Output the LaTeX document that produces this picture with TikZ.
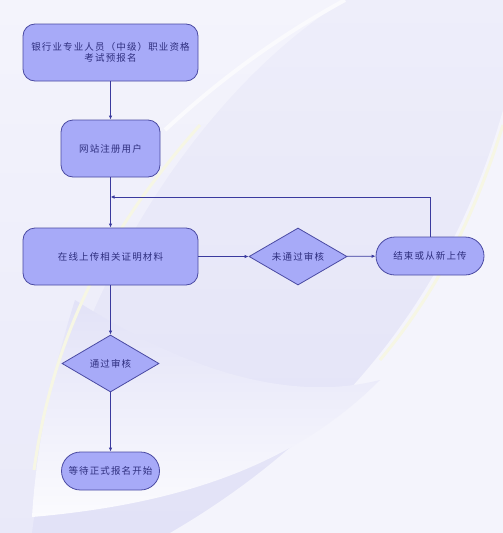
\documentclass[tikz,border=0pt]{standalone}
\usepackage{fontspec}
\newfontfamily\cjk[LetterSpace=12]{Noto Sans CJK SC}
\usetikzlibrary{shapes.geometric, arrows.meta}

\definecolor{bgbase}{HTML}{F4F4FC}
\definecolor{bgband}{HTML}{E2E2F7}
\definecolor{bgtop}{HTML}{EEEEFA}
\definecolor{bgwhite}{HTML}{FBFBFE}
\definecolor{swoosh}{HTML}{F6F6E4}
\definecolor{boxfill}{HTML}{A7AAF8}
\definecolor{boxline}{HTML}{4A4AA2}
\definecolor{flowline}{HTML}{3A3A9E}
\definecolor{boxtext}{HTML}{2E2E7E}

\begin{document}
\begin{tikzpicture}[
    x=1pt, y=-1pt,
    font=\cjk\fontsize{9.5}{10.5}\selectfont,
    box/.style={rectangle, rounded corners=12pt, draw=boxline, fill=boxfill, text=boxtext, thick, align=center, inner sep=0pt},
    pill/.style={rectangle, rounded corners=19pt, draw=boxline, fill=boxfill, text=boxtext, thick, inner sep=0pt, minimum height=38pt},
    check/.style={diamond, draw=boxline, fill=boxfill, text=boxtext, thick, inner sep=0pt, aspect=1.7, minimum width=98pt, minimum height=57pt},
    flow/.style={draw=flowline, line width=0.8pt, -{Latex[length=4pt, width=3.5pt]}}
]
    \useasboundingbox (0,0) rectangle (503,533);

    % Background
    \shade [top color=bgtop, bottom color=bgband] (0,0) rectangle (503,533);
    \shade [top color=bgbase, bottom color=bgband!60!bgbase]
        (0,0) -- (345,0) .. controls (200,90) and (60,300) .. (32,533) -- (0,533) -- cycle;
    \fill [bgbase] (503,110) .. controls (450,300) and (330,440) .. (170,533) -- (503,533) -- cycle;
    \shade [top color=bgband, bottom color=bgwhite]
        (75,300) .. controls (50,380) and (36,450) .. (32,517)
        .. controls (170,505) and (290,470) .. (380,380)
        .. controls (300,400) and (200,380) .. (75,300) -- cycle;
    \draw [white!70!bgtop, line width=4pt] (345,0) .. controls (290,30) and (230,70) .. (165,130);
    \draw [swoosh, line width=3pt] (200,125) .. controls (120,215) and (55,320) .. (34,470);
    \draw [swoosh, line width=3pt] (503,125) .. controls (470,230) and (430,300) .. (380,360);

    % Nodes
    \node [box, minimum width=175pt, minimum height=57pt] (apply) at (110.5,52.5) {银行业专业人员（中级）职业资格\\考试预报名};
    \node [box, minimum width=99pt, minimum height=57pt] (register) at (110.5,148.5) {网站注册用户};
    \node [box, minimum width=175pt, minimum height=57pt] (upload) at (110.5,256.5) {在线上传相关证明材料};
    \node [check] (fail) at (298,256.5) {未通过审核};
    \node [pill, minimum width=108pt] (retry) at (430,256) {结束或从新上传};
    \node [check, minimum width=97pt] (pass) at (110.5,363.5) {通过审核};
    \node [pill, minimum width=98pt] (wait) at (110.5,471) {等待正式报名开始};
    \coordinate (join) at (110.5,197);

    % Connectors
    \draw [flow] (apply) -- (register);
    \draw [flow] (register) -- (upload);
    \draw [flow] (upload) -- (fail);
    \draw [flow] (fail) -- (retry);
    \draw [flow] (retry.north) |- (join);
    \draw [flow] (upload) -- (pass);
    \draw [flow] (pass) -- (wait);
\end{tikzpicture}
\end{document}
